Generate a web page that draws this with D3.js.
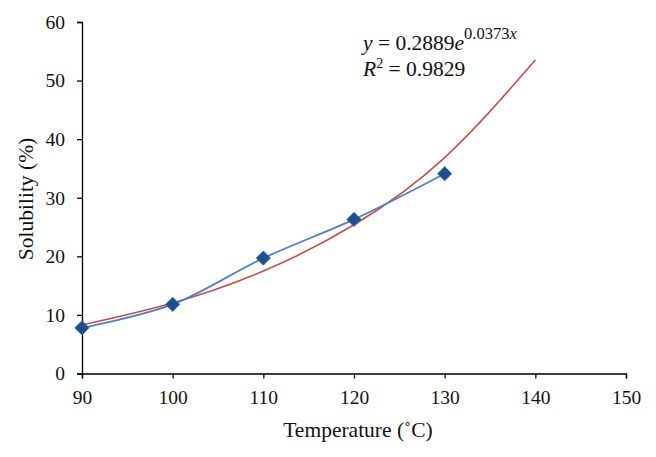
<!DOCTYPE html>
<html><head><meta charset="utf-8">
<script src="https://cdn.jsdelivr.net/npm/d3@7"></script>
<style>body{margin:0;background:#fff}svg{display:block}text{font-family:"Liberation Serif","Times New Roman",serif;fill:#111}</style>
</head><body><svg id="c" width="656" height="457"></svg>
<script>
const temps = [90, 100, 110, 120, 130];
const solubility = [7.8, 11.8, 19.7, 26.3, 34.1];
const trendX = [90, 100, 110, 120, 130, 140];
const trendY = [8.29, 12.04, 17.48, 25.39, 36.86, 53.5];
const xTicks = [90, 100, 110, 120, 130, 140, 150];
const yTicks = [0, 10, 20, 30, 40, 50, 60];

const svg = d3.select("#c");
const x = d3.scaleLinear().domain([90,150]).range([82,626]);
const y = d3.scaleLinear().domain([0,60]).range([373.5,22]);

const xa = svg.append("g").attr("transform","translate(0,373.5)")
  .call(d3.axisBottom(x).tickValues(xTicks).tickSize(5).tickPadding(14));
const ya = svg.append("g").attr("transform","translate(82,0)")
  .call(d3.axisLeft(y).tickValues(yTicks).tickSize(5).tickPadding(12));
[xa,ya].forEach(a=>{
  a.select(".domain").attr("stroke","#000").attr("stroke-width",1.3);
  a.selectAll(".tick line").attr("stroke","#000").attr("stroke-width",1.3);
  a.selectAll(".tick text").attr("font-size",19.5).attr("font-family","Liberation Serif").attr("fill","#111");
});
xa.selectAll(".tick text").attr("dy","0.6em");

const pts = temps.map((t,i)=>[t,solubility[i]]);
const tr = trendX.map((t,i)=>[t,trendY[i]]);

svg.append("path").datum(tr)
  .attr("d", d3.line().x(d=>x(d[0])).y(d=>y(d[1])).curve(d3.curveNatural))
  .attr("fill","none").attr("stroke","#c0504d").attr("stroke-width",1.6);
svg.append("path").datum(pts)
  .attr("d", d3.line().x(d=>x(d[0])).y(d=>y(d[1])).curve(d3.curveCatmullRom))
  .attr("fill","none").attr("stroke","#4f81bd").attr("stroke-width",1.8);

svg.selectAll(".m").data(pts).join("path")
  .attr("transform",d=>`translate(${x(d[0])},${y(d[1])})`)
  .attr("d", d3.symbol().type(d3.symbolDiamond2).size(130))
  .attr("fill","#1f4e8c").attr("stroke","#3a6aa8").attr("stroke-width",0.8);

svg.append("text").attr("x",358).attr("y",437).attr("text-anchor","middle")
  .attr("font-size",21.5).text("Temperature (˚C)");
svg.append("text").attr("transform","translate(33,199) rotate(-90)").attr("text-anchor","middle")
  .attr("font-size",21.5).text("Solubility (%)");

const eq = svg.append("text").attr("x",363).attr("y",50).attr("font-size",21.5);
eq.append("tspan").attr("font-style","italic").text("y");
eq.append("tspan").text(" = 0.2889");
eq.append("tspan").attr("font-style","italic").text("e");
eq.append("tspan").attr("dy",-11).attr("font-size",16.5).text("0.0373");
eq.append("tspan").attr("font-style","italic").attr("font-size",16.5).text("x");
const r2 = svg.append("text").attr("x",363).attr("y",76).attr("font-size",21.5);
r2.append("tspan").attr("font-style","italic").text("R");
r2.append("tspan").attr("dy",-8).attr("font-size",14).text("2");
r2.append("tspan").attr("dy",8).text(" = 0.9829");
</script></body></html>
